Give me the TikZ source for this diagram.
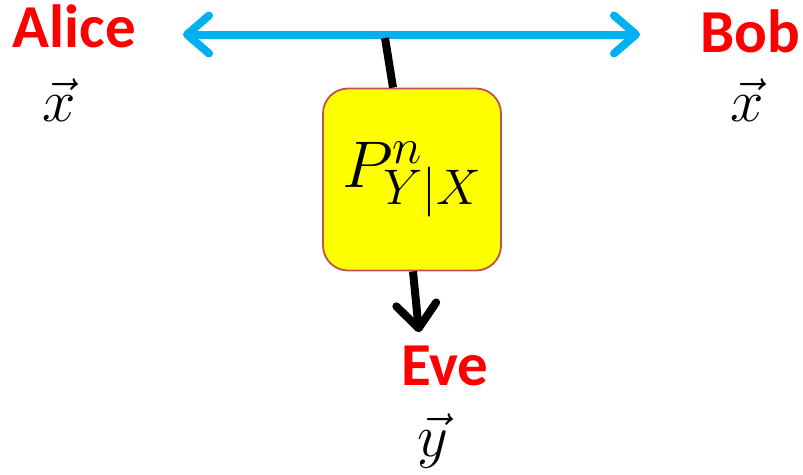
\RequirePackage{fix-cm}
\documentclass[tikz,border=0pt]{standalone}
\usepackage{amsmath}
\usepackage{fontspec}
\setsansfont{Carlito}
\usetikzlibrary{arrows.meta,positioning}
\definecolor{aqua}{HTML}{00B0F0}
\definecolor{brick}{HTML}{C0504D}
\definecolor{lemon}{RGB}{255,255,0}
\definecolor{scarlet}{RGB}{255,0,0}
\DeclareMathSizes{66}{66}{50}{37}

\begin{document}
\begin{tikzpicture}[x=1pt,y=-1pt,
  party/.style={text=scarlet,font=\fontsize{61}{64}\selectfont\sffamily\bfseries,
    inner sep=0pt,anchor=base},
  vecl/.style={inner sep=0pt,font=\fontsize{60}{66}\selectfont},
  chan/.style={draw=brick,line width=1.8pt,fill=lemon,rounded corners=25pt,
    minimum width=178pt,minimum height=182pt,font=\fontsize{66}{72}\selectfont},
  link/.style={aqua,line width=8pt,line cap=round,
    {Straight Barb[round,length=22pt,width=38pt]}-{Straight Barb[round,length=22pt,width=38pt]}},
  leak/.style={line width=8pt,-{Straight Barb[round,length=24pt,width=40pt]}}]
\useasboundingbox (0,0) rectangle (803,474);
\node[party] (alice) at (74.5,47) {Alice};
\node[party] (bob) at (750,52) {Bob};
\node[party] (eve) at (445,385) {Eve};
\node[vecl,below=31pt of alice,xshift=-15pt] (xa) {$\vec{x}$};
\node[vecl,below=26pt of bob,xshift=-3pt] (xb) {$\vec{x}$};
\node[vecl,below=28pt of eve,xshift=-12pt] (ye) {$\vec{y}$};
\node[chan] (chan) at (412,179.5) {\raisebox{-7pt}{$P^n_{Y|X}$}};
% the public line and the tap on it
\coordinate (lend) at (183,34.5);
\coordinate (rend) at (640,34.5);
\coordinate (tap) at (385,38);
\draw[link] (lend) -- (rend);
\draw[leak,-] (tap) -- ([xshift=-19pt]chan.north);
\draw[leak] ([xshift=1pt]chan.south) -- ([xshift=-26pt,yshift=13pt]eve.north);
\end{tikzpicture}
\end{document}
